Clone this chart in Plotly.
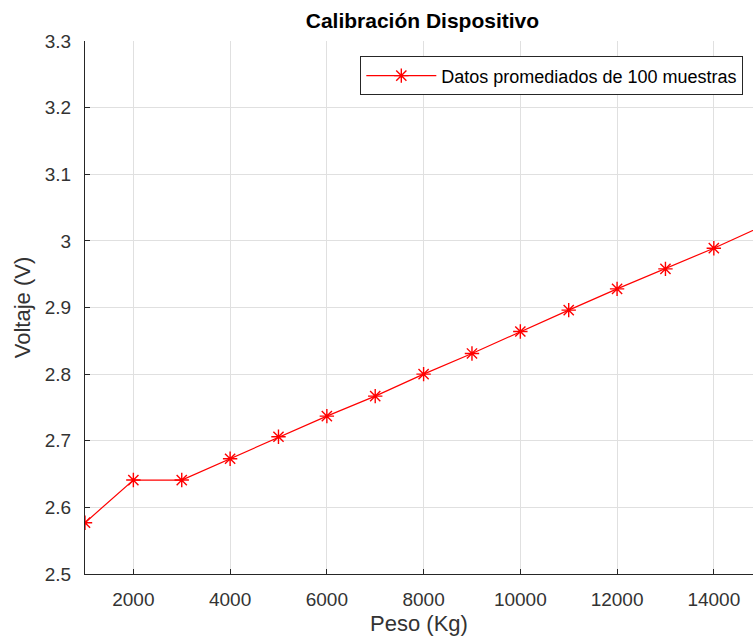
import plotly.graph_objects as go

peso = [1000, 2000, 3000, 4000, 5000, 6000, 7000, 8000, 9000, 10000, 11000, 12000, 13000, 14000, 15000]
voltaje = [2.577, 2.641, 2.641, 2.673, 2.706, 2.737, 2.767, 2.800, 2.831, 2.864, 2.896, 2.928, 2.958, 2.989, 3.022]
x_ticks = [2000, 4000, 6000, 8000, 10000, 12000, 14000]
y_ticks = [2.5, 2.6, 2.7, 2.8, 2.9, 3.0, 3.1, 3.2, 3.3]
y_labels = ["2.5", "2.6", "2.7", "2.8", "2.9", "3", "3.1", "3.2", "3.3"]

fig = go.Figure()
fig.add_trace(go.Scatter(
    x=peso, y=voltaje, mode="lines+markers",
    name="Datos promediados de 100 muestras",
    line=dict(color="#ff0000", width=1.2),
    marker=dict(symbol="asterisk-open", size=12, color="#ff0000", line=dict(color="#ff0000", width=1.4)),
    cliponaxis=True,
))

fig.update_layout(
    width=753, height=642,
    margin=dict(l=85, r=0, t=41, b=68),
    paper_bgcolor="white", plot_bgcolor="white",
    font=dict(family="Liberation Sans, Arial, sans-serif", size=19, color="#333333"),
    title=dict(text="<b>Calibración Dispositivo</b>", x=0.561, xanchor="center", y=0.968, yanchor="middle",
               font=dict(size=21, color="#000000")),
    showlegend=True,
    legend=dict(x=0.9855, y=0.971, xanchor="right", yanchor="top",
                bordercolor="#262626", borderwidth=1, bgcolor="white",
                font=dict(size=18, color="#000000"),
                itemwidth=70, tracegroupgap=0),
)
fig.update_xaxes(
    range=[1000, 14810], tickvals=x_ticks, ticktext=[str(v) for v in x_ticks],
    showgrid=True, gridcolor="#e0e0e0", gridwidth=1,
    showline=True, linecolor="#262626", linewidth=1,
    ticks="inside", ticklen=5, tickcolor="#262626",
    ticklabelstandoff=8,
    zeroline=False,
    title=dict(text="Peso (Kg)", font=dict(size=22, color="#333333"), standoff=6),
    tickfont=dict(size=19, color="#333333"),
)
fig.update_yaxes(
    range=[2.5, 3.3], tickvals=y_ticks, ticktext=y_labels,
    showgrid=True, gridcolor="#e0e0e0", gridwidth=1,
    showline=True, linecolor="#262626", linewidth=1,
    ticks="inside", ticklen=5, tickcolor="#262626",
    ticklabelstandoff=9,
    zeroline=False,
    title=dict(text="Voltaje (V)", font=dict(size=22, color="#333333"), standoff=8),
    tickfont=dict(size=19, color="#333333"),
)

fig.write_html("out.html")
